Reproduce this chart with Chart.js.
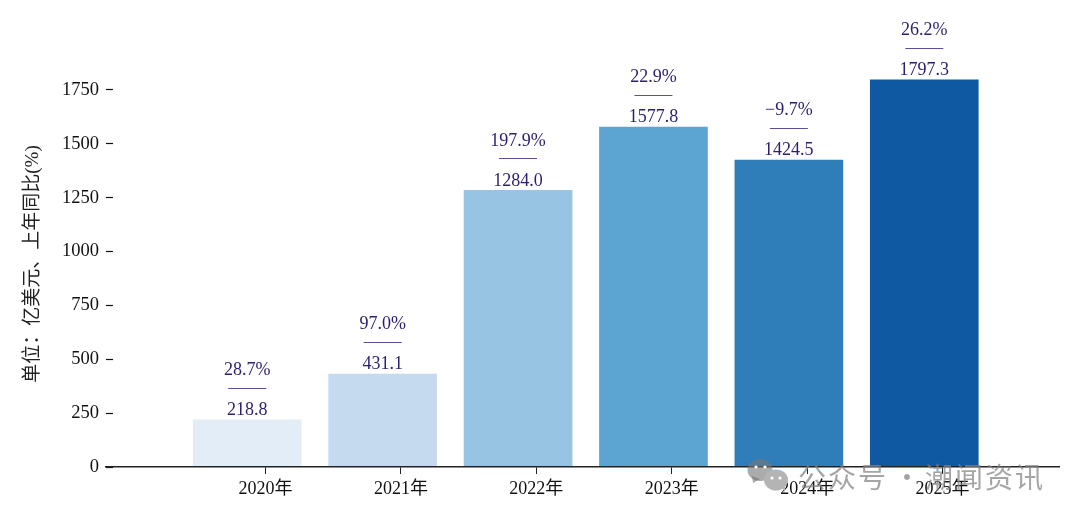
<!DOCTYPE html>
<html><head><meta charset="utf-8">
<style>html,body{margin:0;padding:0;background:#fff}canvas{display:block}</style>
<script src="https://cdn.jsdelivr.net/npm/chart.js@4"></script>
</head><body>
<canvas id="c" width="1080" height="519"></canvas>
<script>
const categories = ['2020年','2021年','2022年','2023年','2024年','2025年'];
const revenue = [218.8, 431.1, 1284.0, 1577.8, 1424.5, 1797.3];
const growth = [28.7, 97.0, 197.9, 22.9, -9.7, 26.2];
const barColors = ['#e3edf7','#c6daef','#97c4e2','#5ca5d2','#2f7eba','#0e59a2'];
const yTitle = '单位：亿美元、上年同比(%)';
const watermark = ['公众号','·','潮闻资讯'];
const serif = '"Liberation Serif","Noto Sans CJK SC",serif';
const navy = '#2b1f6f';
const barShift = -0.135;

const annotate = {
  id:'annotate',
  afterDatasetsDraw(chart){
    const {ctx,scales:{x,y}} = chart;
    ctx.save();
    ctx.font = '18px '+serif;
    ctx.textAlign='center'; ctx.textBaseline='middle';
    revenue.forEach((v,i)=>{
      const px = x.getPixelForValue(i+barShift), top = y.getPixelForValue(v);
      ctx.fillStyle = navy;
      ctx.fillText(v.toFixed(1), px, top-9.5);
      ctx.fillText(growth[i].toFixed(1).replace('-','−')+'%', px, top-49.5);
      ctx.strokeStyle = '#5a5096'; ctx.lineWidth = 1;
      ctx.beginPath();
      ctx.moveTo(px-19, Math.round(top-32)+.5);
      ctx.lineTo(px+19, Math.round(top-32)+.5);
      ctx.stroke();
    });
    ctx.restore();
  },
  afterDraw(chart){
    const ctx = chart.ctx;
    ctx.save();
    ctx.fillStyle = 'rgba(120,120,120,.62)';
    ctx.beginPath(); ctx.ellipse(760,470,12.5,11,0,0,Math.PI*2); ctx.fill();
    ctx.beginPath(); ctx.moveTo(752,476); ctx.lineTo(753,483); ctx.lineTo(760,479); ctx.fill();
    ctx.fillStyle = '#b4b4b4';
    ctx.beginPath(); ctx.ellipse(776,480,12,10.5,0,0,Math.PI*2); ctx.fill();
    ctx.beginPath(); ctx.moveTo(781,487); ctx.lineTo(785,492); ctx.lineTo(785,484); ctx.fill();
    ctx.fillStyle = '#fff';
    [[756,467],[765,467],[772,478],[780,478]].forEach(p=>{ctx.beginPath();ctx.arc(p[0],p[1],1.6,0,Math.PI*2);ctx.fill();});
    ctx.fillStyle = 'rgba(130,130,130,.72)';
    ctx.font = '28px "Noto Sans CJK SC",sans-serif';
    ctx.letterSpacing = '2px';
    ctx.textAlign='left'; ctx.textBaseline='middle';
    ctx.fillText(watermark[0], 798, 477);
    ctx.fillText(watermark[2], 925, 477);
    ctx.letterSpacing = '0px';
    ctx.textAlign='center';
    ctx.fillText(watermark[1], 907, 477);
    ctx.restore();
  }
};

new Chart(document.getElementById('c'),{
  type:'bar',
  data:{datasets:[{
    data: revenue.map((v,i)=>({x:i+barShift,y:v})),
    backgroundColor: barColors,
    barThickness:108,
    borderWidth:0
  }]},
  options:{
    responsive:false, animation:false, devicePixelRatio:1,
    layout:{padding:{top:61,right:21,left:0,bottom:0}},
    plugins:{legend:{display:false},tooltip:{enabled:false}},
    scales:{
      x:{
        type:'linear', bounds:'data', offset:false, min:-1.178, max:5.86,
        afterBuildTicks(s){ s.ticks = categories.map((_,i)=>({value:i})); },
        afterFit(s){ s.height = 52; },
        grid:{offset:false,drawOnChartArea:false,drawTicks:true,tickLength:7,tickColor:'#222',tickWidth:1},
        border:{display:true,color:'#222',width:1.4,z:1},
        ticks:{stepSize:1,includeBounds:false,autoSkip:false,maxRotation:0,padding:4,color:'#111',
          font:{family:serif,size:18},callback:v=>categories[v]}
      },
      y:{
        bounds:'data', min:0, max:1884.6,
        afterFit(s){ s.width = 106; },
        grid:{drawOnChartArea:false,drawTicks:true,tickLength:-7,tickColor:'#111',tickWidth:1.2},
        border:{display:false},
        ticks:{stepSize:250,includeBounds:false,padding:14,color:'#111',font:{family:serif,size:18.5},callback:v=>String(v)},
        title:{display:true,text:yTitle,color:'#222',font:{family:serif,size:19},padding:{top:22,bottom:0}}
      }
    }
  },
  plugins:[annotate]
});
</script>
</body></html>
